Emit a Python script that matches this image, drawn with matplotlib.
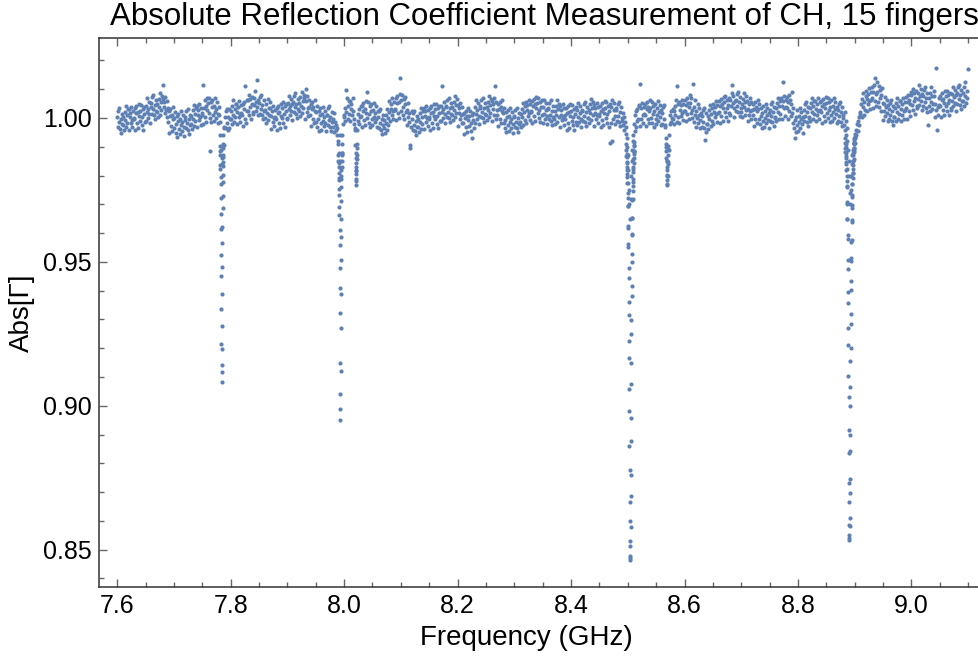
import numpy as np
import matplotlib.pyplot as plt
import matplotlib.ticker as mticker

plt.rcParams['font.family'] = ['Liberation Sans', 'DejaVu Sans']

# |Gamma| off resonance, one reading every 1 MHz,
# stored as deviation from 1 in units of 1e-4
base_760 = [5, -32, 26, -15, 34, -37, -2, -51, 15, -22,
            -25, 3, -42, 22, -8, 41, -33, 10, -16, 30,
            30, -42, 2, 19, -18, 38, -6, -33, 24, -1,
            -4, 33, -42, 16, 41, -17, 22, -34, 8, 49,
            26, -9, 45, -26, 3, 31, -40, 14, 38, -14,
            -11, 43, 20, 68, 1, 32, 56, 13, -16, 39,
            52, 15, 73, 32, 81, 10, 45, -4, 62, 25,
            20, 48, 3, 67, 37, 86, 12, 55, 29, 75,
            65, 115, 37, 54, 17, 73, 29, 2, 59, 34,
            -14, 23, -52, 6, 31, -27, 12, -44, -2, 39]
base_770 = [1, -34, 20, -51, -22, 6, -65, -11, 13, -39,
            -56, -2, -25, 23, -44, -13, 11, -32, -61, -6,
            2, -35, 23, -18, 31, -40, -5, -54, 12, -25,
            -20, 8, -37, 27, -3, 46, -28, 15, -11, 35,
            40, -32, 12, 29, -8, 48, 4, -23, 34, 9,
            16, 113, -22, 36, 61, 3, 42, -14, 28, 69,
            51, 16, 70, -1, -113, 56, -15, 39, 63, 11,
            -11, 43, 20, 68, 1, 32, 56, 13, -16, 39,
            10, -15, -60, -110, -160, -140, -90, -60, -35, -30,
            2, -35, 23, -18, 31, -40, 5, -34, 32, -5]
base_780 = [-5, 23, -22, 42, 12, 61, -13, 30, 4, 50,
            50, -22, 22, 39, 2, 58, 14, -13, 44, 19,
            11, 48, -27, 31, 56, -2, 110, -19, 23, 64,
            61, 26, 80, 9, 38, 66, -5, 49, 73, 21,
            14, 68, 45, 93, 26, 57, 132, 38, 9, 64,
            52, 15, 73, 32, 81, 10, 45, -4, 62, 25,
            0, 28, -17, 47, 17, 66, -8, 35, 9, 55,
            35, -37, 7, 24, -13, 43, -1, -28, 29, 4,
            -4, 33, -42, 16, 41, -17, 22, -34, 8, 49,
            36, 1, 55, -16, 13, 41, -30, 24, 48, -4]
base_790 = [-1, 53, 30, 78, 11, 42, 66, 23, -6, 49,
            57, 20, 78, 37, 86, 15, 50, 1, 67, 30,
            25, 53, 8, 72, 42, 91, 17, 60, 34, 80,
            70, -2, 102, 59, 22, 78, 34, 7, 64, 39,
            11, 48, -27, 31, 56, -2, 37, -19, 23, 64,
            21, -14, 40, -31, -2, 26, -45, 9, 33, -19,
            -41, 13, -10, 38, -29, 2, 26, -17, -46, 9,
            12, -25, 33, -8, 41, -30, 5, -44, 22, -15,
            -30, -2, -47, 17, -13, -40, -25, -60, -35, -80,
            -90, -120, -60, -150, -200, -180, -120, -60, -20, 10]
base_800 = [5, 33, -12, 97, 22, 71, -3, 40, 14, 60,
            60, -12, 32, 49, 12, 68, 24, -3, -20, -35,
            -40, -180, -90, -40, -10, 15, -20, 30, 5, 40,
            6, 43, -32, 26, 51, -7, 32, -24, 18, 59,
            90, 1, 55, -16, 13, 41, -30, 24, 48, -4,
            -26, 28, 5, 53, -14, 17, 41, -2, -31, 24,
            2, -35, 23, -18, 31, -40, -5, -54, 12, -25,
            -35, -7, -52, 12, -18, 31, -43, 0, -26, 20,
            60, -12, 32, 49, 12, 68, 24, -3, 54, 29,
            31, 68, -7, 51, 76, 18, 57, 1, 140, 84]
base_810 = [61, 26, 80, 9, 38, 66, -5, 49, 73, 21,
            -26, 28, 5, 53, -14, 17, -105, -95, -31, 24,
            -3, -40, 18, -23, 26, -45, -10, -59, 7, -30,
            -30, -2, -47, 17, -13, 36, -38, 5, -21, 25,
            35, -37, 7, 24, -13, 43, -1, -28, 29, 4,
            -4, 33, -42, 16, 41, -17, 22, -34, 8, 49,
            31, -4, 50, -21, 8, 36, -35, 19, 43, -9,
            -11, 43, 20, 112, 1, 32, 56, 13, -16, 39,
            42, 5, 63, 22, 71, 0, 35, -14, 52, 15,
            10, 38, -7, 57, 27, 76, 2, 45, 19, 65]
base_820 = [45, -27, 17, 34, -3, 53, 9, -18, 39, 14,
            -19, 18, -57, 1, 26, -32, 7, -49, -7, 34,
            6, -29, 25, -46, -17, 11, -70, -6, 18, -34,
            -16, 38, 15, 63, -4, 27, 51, 8, -21, 34,
            42, 5, 63, 22, 71, 0, 35, -14, 52, 15,
            10, 38, -7, 57, 27, 76, 2, 45, 19, 65,
            60, -12, 32, 49, 12, 68, 112, -3, 54, 29,
            11, 48, -27, 31, 56, -2, 37, -19, 23, 64,
            16, -19, 35, -36, -7, 21, -50, 4, 28, -24,
            -46, 8, -15, 33, -34, -3, 21, -22, -51, 4]
base_830 = [7, -30, 28, -13, 36, -35, 0, -49, 17, -20,
            -15, 13, -32, 32, 2, 51, -23, 20, -6, 40,
            55, -17, 27, 44, 7, 63, 19, -8, 49, 24,
            21, 58, -17, 41, 66, 8, 47, -9, 33, 74,
            51, 16, 70, -1, 28, 56, -15, 39, 63, 11,
            -16, 38, 15, 63, -4, 27, 51, 8, -21, 34,
            32, -5, 53, 12, 61, -10, 25, -24, 42, 5,
            -5, 23, -22, 42, 12, 61, -13, 30, 4, 50,
            40, -32, 12, 29, -8, 48, 4, -23, 34, 9,
            -4, 33, -42, 16, 41, -17, 22, -34, 8, 49]
base_840 = [26, -9, 45, -26, 3, 31, -40, 14, 38, -14,
            -26, 28, 5, 53, -14, 17, 41, -2, -31, 24,
            27, -10, 48, 7, 56, -15, 20, -29, 37, 0,
            0, 28, -17, 47, 17, 66, -8, 35, 9, 55,
            45, -27, 17, 34, -3, 53, 9, -18, 39, 14,
            6, 43, -32, 26, 51, -7, 32, -24, 18, 59,
            36, 1, 55, -16, 13, 41, -30, 24, 48, -87,
            -16, 38, -80, 63, -4, 27, 51, 8, -21, 34,
            27, -10, 48, 7, 56, -15, 20, -29, 37, 0,
            -10, 18, -25, 5, -40, -15, -55, -30, -70, -100]
base_850 = [-130, -180, -250, -300, -350, -280, -200, -150, -110, -80,
            -60, -20, -45, 10, -30, 25, -10, 30, -5, 40,
            45, -27, 118, 34, -3, 53, 9, -18, 39, 14,
            11, 48, -27, 31, 56, -2, 37, -19, 23, 64,
            36, 1, 55, -16, 13, 41, -30, 24, 48, -4,
            -21, 33, 10, 58, -9, 22, 46, 3, -26, 29,
            17, -20, 38, -3, 46, -25, -30, -70, -100, -150,
            -200, -160, -110, -60, -20, 10, -15, 25, 0, 30,
            -5, 23, -22, 42, 12, 61, -13, 110, 4, 50,
            55, -17, 27, 44, 7, 63, 19, -8, 49, 24]
base_860 = [26, 63, -12, 46, 71, 13, 52, -4, 38, 79,
            51, 16, 70, -1, 28, 118, -15, 39, 63, 11,
            -31, 23, 0, 48, -19, 12, 36, -7, -36, 19,
            7, -30, 28, -13, 36, -35, -77, -49, 17, -20,
            -20, 8, -37, 27, -3, 46, -28, 15, -11, 35,
            50, -22, 22, 39, 2, 58, 14, -13, 44, 19,
            21, 58, -17, 41, 66, 8, 47, -9, 33, 74,
            56, 21, 75, 4, 33, 61, -10, 44, 68, 16,
            9, 63, 40, 88, 115, 52, 76, 33, 4, 59,
            62, 25, 83, 42, 91, 20, 55, 6, 72, 35]
base_870 = [20, 48, 3, 67, 37, 86, 12, 55, 29, 75,
            60, -12, 32, 49, 12, 68, 24, -3, 54, 29,
            11, 48, -27, 31, 56, -2, 37, -19, 23, 64,
            31, -4, 50, -21, 8, 36, -35, 19, 43, -9,
            -31, 23, 0, 48, -19, 12, 36, -7, -36, 19,
            27, -10, 48, 7, 56, -15, 20, -29, 37, 0,
            5, 33, -12, 52, 22, 71, -3, 40, 14, 60,
            70, -2, 42, 59, 126, 78, 34, 7, 64, 39,
            36, 73, -2, 56, 81, 23, 62, 6, 48, 89,
            16, -19, 35, -36, -7, -70, -50, 4, 28, -24]
base_880 = [-46, 8, -15, 33, -34, -3, 21, -22, -51, 4,
            27, -10, 48, 7, 56, -15, 20, -29, 37, 0,
            5, 33, -12, 52, 22, 71, -3, 40, 14, 60,
            60, -12, 32, 49, 12, 68, 24, -3, 54, 29,
            21, 58, -17, 41, 66, 8, 47, -9, 33, 74,
            51, 16, 70, -1, 28, 56, -15, 39, 63, 11,
            -11, 43, 20, 68, 1, 32, 56, 13, -16, 39,
            27, -10, 48, 7, 56, -15, 20, -29, 37, 0,
            10, -25, 20, -40, -10, -60, -35, -80, -110, -150,
            -200, -260, -300, -250, -200, -160, -130, -110, -90, -75]
base_890 = [-70, -55, -60, -40, -20, -45, -10, 5, -25, 15,
            20, 48, 3, 67, 37, 86, 12, 55, 29, 75,
            95, 23, 67, 84, 47, 103, 59, 32, 89, 64,
            71, 108, 33, 91, 116, 58, 140, 41, 83, 124,
            91, 56, 110, 39, 68, 96, 25, 79, 103, 51,
            -6, 48, 25, 73, 6, 37, 61, 18, -11, 44,
            32, -5, 53, 12, 61, -10, 25, -24, 42, 5,
            5, 33, -12, 52, 22, 71, -3, 40, 14, 60,
            60, -12, 32, 49, 12, 68, 24, -3, 54, 29,
            36, 73, -2, 56, 81, 23, 62, 6, 48, 89]
base_900 = [81, 46, 100, 29, 58, 86, 15, 69, 93, 41,
            34, 88, 65, 113, 46, 77, 101, 58, 29, 84,
            77, 40, 98, 57, 106, 35, 70, 21, 87, -24,
            40, 68, 23, 87, 57, 106, 32, 75, 49, 95,
            75, 3, 47, 175, 27, -40, 39, 12, 69, 44,
            41, 78, 3, 61, 86, 28, 67, 11, 53, 94,
            76, 41, 95, 24, 53, 81, 10, 64, 88, 36,
            29, 83, 60, 108, 41, 72, 96, 53, 24, 79,
            87, 50, 108, 67, 116, 45, 80, 31, 97, 60,
            60, 88, 43, 107, 77, 126, 52, 95, 69, 170]

base_segments = [base_760, base_770, base_780, base_790, base_800,
                 base_810, base_820, base_830, base_840, base_850,
                 base_860, base_870, base_880, base_890, base_900]
base_starts = [7.60, 7.70, 7.80, 7.90, 8.00, 8.10, 8.20, 8.30,
               8.40, 8.50, 8.60, 8.70, 8.80, 8.90, 9.00]
base_step = 0.001

# resonance dips, fine sweep of 0.2 MHz through each one
dip_step = 0.0002
dip_starts = [7.7812, 7.9898, 8.0200, 8.4972, 8.5678, 8.8831]
dip_7785 = [0.9902, 0.9871, 0.9885, 0.9838, 0.9822, 0.9795, 0.9770, 0.9722,
            0.9668, 0.9613, 0.9523, 0.9450, 0.9336, 0.9213, 0.9142, 0.9084,
            0.9118, 0.9197, 0.9278, 0.9390, 0.9481, 0.9565, 0.9621, 0.9688,
            0.9730, 0.9777, 0.9802, 0.9834, 0.9848, 0.9870, 0.9866, 0.9895,
            0.9907]
dip_7993 = [0.9871, 0.9852, 0.9831, 0.9842, 0.9810, 0.9783, 0.9792, 0.9752,
            0.9731, 0.9690, 0.9662, 0.9611, 0.9560, 0.9480, 0.9410, 0.9322,
            0.9150, 0.9040, 0.8951, 0.8990, 0.9122, 0.9270, 0.9390, 0.9505,
            0.9588, 0.9649, 0.9712, 0.9760, 0.9789, 0.9830, 0.9851, 0.9880,
            0.9872, 0.9910]
dip_8021 = [0.9905, 0.9880, 0.9861, 0.9842, 0.9815, 0.9789, 0.9767, 0.9781,
            0.9806, 0.9830, 0.9858, 0.9872, 0.9895]
dip_8504 = [0.9908, 0.9867, 0.9888, 0.9847, 0.9876, 0.9845, 0.9865, 0.9805,
            0.9828, 0.9795, 0.9818, 0.9773, 0.9774, 0.9721, 0.9740, 0.9695,
            0.9693, 0.9626, 0.9617, 0.9562, 0.9551, 0.9480, 0.9445, 0.9360,
            0.9317, 0.9225, 0.9167, 0.9058, 0.8982, 0.8860, 0.8776, 0.8665,
            0.8599, 0.8514, 0.8479, 0.8464, 0.8472, 0.8530, 0.8580, 0.8687,
            0.8759, 0.8879, 0.8956, 0.9075, 0.9148, 0.9251, 0.9297, 0.9380,
            0.9416, 0.9498, 0.9526, 0.9594, 0.9598, 0.9653, 0.9652, 0.9715,
            0.9720, 0.9764, 0.9748, 0.9788, 0.9776, 0.9822, 0.9814, 0.9856,
            0.9831, 0.9861, 0.9842, 0.9886, 0.9875, 0.9904, 0.9881, 0.9906,
            0.9886, 0.9916]
dip_8569 = [0.9908, 0.9885, 0.9862, 0.9849, 0.9818, 0.9797, 0.9771, 0.9767,
            0.9785, 0.9803, 0.9829, 0.9846, 0.9870, 0.9893, 0.9902]
dip_8890 = [0.9929, 0.9897, 0.9914, 0.9882, 0.9908, 0.9879, 0.9898, 0.9847,
            0.9869, 0.9839, 0.9862, 0.9818, 0.9824, 0.9781, 0.9798, 0.9760,
            0.9763, 0.9709, 0.9702, 0.9649, 0.9648, 0.9594, 0.9579, 0.9505,
            0.9475, 0.9396, 0.9358, 0.9271, 0.9211, 0.9104, 0.9031, 0.8915,
            0.8837, 0.8731, 0.8666, 0.8586, 0.8550, 0.8534, 0.8541, 0.8582,
            0.8611, 0.8695, 0.8747, 0.8841, 0.8898, 0.9000, 0.9064, 0.9157,
            0.9201, 0.9284, 0.9320, 0.9401, 0.9432, 0.9503, 0.9514, 0.9569,
            0.9577, 0.9640, 0.9647, 0.9699, 0.9688, 0.9731, 0.9724, 0.9771,
            0.9769, 0.9808, 0.9792, 0.9824, 0.9809, 0.9851, 0.9838, 0.9871,
            0.9851, 0.9878, 0.9859, 0.9896, 0.9882, 0.9912, 0.9889, 0.9914,
            0.9894, 0.9929, 0.9912, 0.9934, 0.9914]
dip_values = [dip_7785, dip_7993, dip_8021, dip_8504, dip_8569, dip_8890]

freq = []
gamma = []
for start, seg in zip(base_starts, base_segments):
    freq.append(start + base_step * np.arange(len(seg)))
    gamma.append(1 + np.array(seg) / 1e4)
for start, seg in zip(dip_starts, dip_values):
    freq.append(start + dip_step * np.arange(len(seg)))
    gamma.append(np.array(seg))
freq = np.concatenate(freq)
gamma = np.concatenate(gamma)

fig = plt.figure(figsize=(9.79, 6.61), dpi=100)
ax = fig.add_axes([99 / 979, 74 / 661, 880 / 979, 549 / 661])
ax.scatter(freq, gamma, s=9, color='#5E81B5', linewidths=0)

ax.set_xlim(7.568, 9.119)
ax.set_ylim(0.8370, 1.0278)
ax.xaxis.set_major_locator(mticker.MultipleLocator(0.2))
ax.xaxis.set_minor_locator(mticker.MultipleLocator(0.05))
ax.yaxis.set_major_locator(mticker.MultipleLocator(0.05))
ax.yaxis.set_minor_locator(mticker.MultipleLocator(0.01))
ax.xaxis.set_major_formatter(mticker.FormatStrFormatter('%.1f'))
ax.yaxis.set_major_formatter(mticker.FormatStrFormatter('%.2f'))
ax.tick_params(which='both', direction='in', top=True, right=False,
               color='#666666', width=1, labelsize=18, labelcolor='black')
ax.tick_params(which='major', length=6, pad=5)
ax.tick_params(which='minor', length=3.5)
for side in ['left', 'bottom', 'top']:
    ax.spines[side].set_color('#333333')
    ax.spines[side].set_linewidth(1.1)
ax.spines['right'].set_visible(False)

fig.text(544 / 979, 1 - 17 / 661,
         'Absolute Reflection Coefficient Measurement of CH, 15 fingers',
         ha='center', va='center', fontsize=22.5)
fig.text(526 / 979, 1 - 638 / 661, 'Frequency (GHz)',
         ha='center', va='center', fontsize=20)
fig.text(22 / 979, 1 - 313 / 661, 'Abs[Γ]', rotation=90,
         ha='center', va='center', fontsize=20)

fig.savefig('out.png', dpi=100)
